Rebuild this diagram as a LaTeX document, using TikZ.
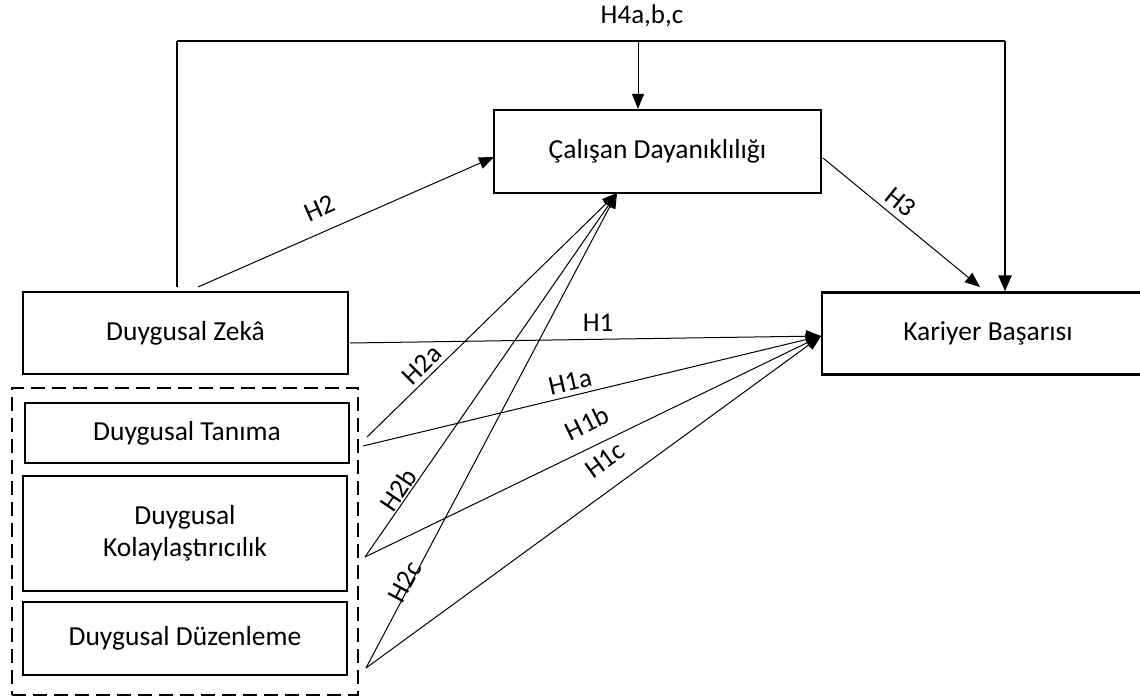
\documentclass[tikz,border=0pt]{standalone}
\usepackage{fontspec}
\setmainfont{Carlito}
\usetikzlibrary{arrows.meta}
\begin{document}
\begin{tikzpicture}[x=1pt,y=-1pt,
  box/.style={draw, line width=2.2pt, inner sep=0pt, align=center, font=\fontsize{27.5}{32}\selectfont},
  conn/.style={line width=1pt, -{Triangle[length=15pt,width=12pt]}},
  thickconn/.style={line width=2.5pt, -{Triangle[length=16pt,width=13pt]}},
  lab/.style={font=\fontsize{27}{30}\selectfont, inner sep=0pt}]
\useasboundingbox (0,0) rectangle (1140,696);
\clip (0,0) rectangle (1140,696);
% boxes
\node (zeka) [box, minimum width=325pt, minimum height=82pt] at (185.5,333) {Duygusal Zekâ};
\node (cd) [box, minimum width=327pt, minimum height=83pt] at (657.5,151.5) {\raisebox{4pt}{Çalışan Dayanıklılığı}};
\node (kb) [box, minimum width=332pt, minimum height=82pt] at (988,333.5) {Kariyer Başarısı};
\node (grp) [draw, line width=2pt, dash pattern=on 14pt off 7pt, minimum width=346pt, minimum height=307pt] at (185,541.5) {};
\node (tan) [box, minimum width=324pt, minimum height=60pt] at (187,433) {Duygusal Tanıma};
\node (kol) [box, minimum width=324pt, minimum height=115pt] at (185,533.5) {Duygusal\\Kolaylaştırıcılık};
\node (duz) [box, minimum width=324pt, minimum height=73pt] at (185,638.5) {\raisebox{6pt}{Duygusal Düzenleme}};
% helper coordinates
\coordinate (tl) at (177,41);
\coordinate (tr) at (1005,41);
\coordinate (tm) at (638,41);
\coordinate (zk) at (177,287);
\coordinate (zs) at (198,287);
\coordinate (cw) at (494,157);
\coordinate (ce) at (823,158);
\coordinate (kt) at (980,287);
\coordinate (zr) at (350,343);
\coordinate (kin) at (821,336);
\coordinate (cin) at (617,193);
\coordinate (tanA) at (367,437);
\coordinate (tanB) at (363,446);
\coordinate (kolS) at (365,557);
\coordinate (duzS) at (366,668);
% H4 bracket
\draw[line width=2pt] (zk) -- (tl);
\draw[line width=2.5pt] (tl) -- (tr);
\draw[thickconn] (tr) -- (kb.north -| tr);
\draw[conn] (tm) -- (cd.north -| tm);
% H2, H3
\draw[conn] (zs) -- (cw);
\draw[conn] (ce) -- (kt);
% H1 group
\draw[conn] (zr) -- (kin);
\draw[conn] (tanB) -- (kin);
\draw[conn] (kolS) -- (kin);
\draw[conn] (duzS) -- (kin);
% H2 group
\draw[conn] (tanA) -- (cin);
\draw[conn] (kolS) -- (cin);
\draw[conn] (duzS) -- (cin);
% labels
\node (l4) [lab] at (642,16) {H4a,b,c};
\node (l2) [lab, rotate=24] at (320,208) {H2};
\node (l3) [lab, rotate=-39] at (901,202) {H3};
\node (l1) [lab] at (598,323) {H1};
\node (l1a) [lab, rotate=13] at (570,382) {H1a};
\node (l1b) [lab, rotate=26] at (587,423) {H1b};
\node (l1c) [lab, rotate=36] at (605,460) {H1c};
\node (l2a) [lab, rotate=45] at (422,365) {H2a};
\node (l2b) [lab, rotate=56] at (398,490) {H2b};
\node (l2c) [lab, rotate=62] at (405,582) {H2c};
\end{tikzpicture}
\end{document}
